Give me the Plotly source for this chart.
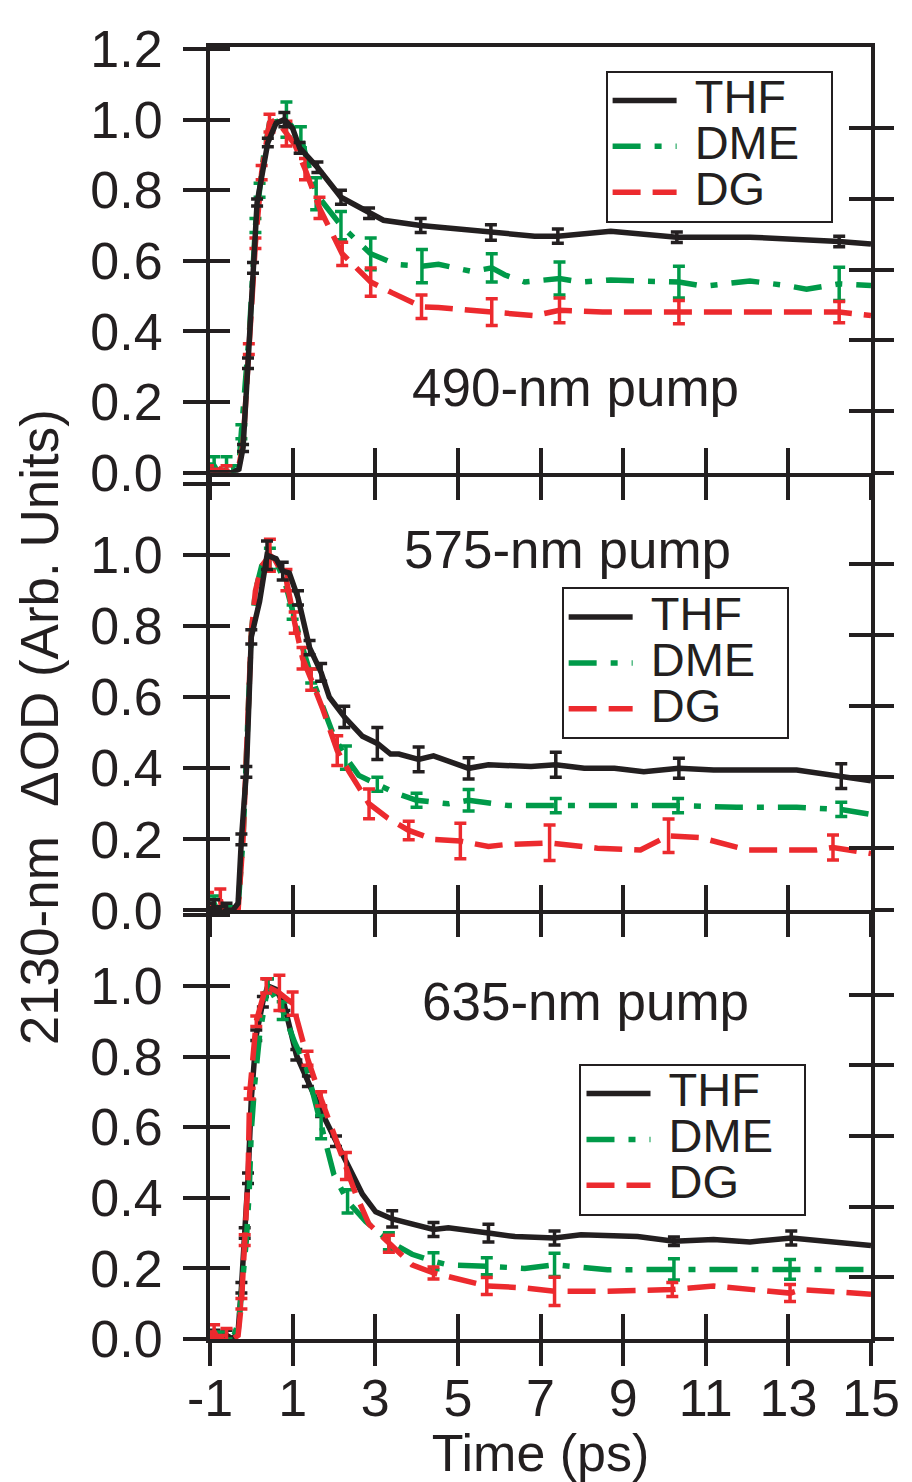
import plotly.graph_objects as go

FONT = "Liberation Sans, Arial, Helvetica, sans-serif"
INK = "#231F20"

# ---------------- data ----------------
solvents = ["THF", "DME", "DG"]
colors = {"THF": "#231F20", "DME": "#009A49", "DG": "#EC2A2E"}
dashes = {"THF": "solid", "DME": "28px,14px,7px,14px", "DG": "28px,12px"}
pump_labels = ["490-nm pump", "575-nm pump", "635-nm pump"]

x_ticks = [-1, 1, 3, 5, 7, 9, 11, 13, 15]
x_ticktext = ["-1", "1", "3", "5", "7", "9", "11", "13", "15"]
y_ticks = [0.0, 0.2, 0.4, 0.6, 0.8, 1.0, 1.2]
y_ticktext_top = ["0.0", "0.2", "0.4", "0.6", "0.8", "1.0", "1.2"]
y_ticktext_low = ["0.0", "0.2", "0.4", "0.6", "0.8", "1.0", ""]

# ---- 490-nm pump ----
thf_t_490 = [-1.05, -0.85, -0.65, -0.45, -0.3, -0.2, -0.08, 0.04, 0.14, 0.4, 0.6, 0.8, 1.0, 1.17,
             1.6, 2.17, 2.85, 3.2, 4.1, 5.0, 5.8, 6.86, 7.42, 8.7, 10.3, 12.07, 14.23, 15.0]
thf_y_490 = [0.0, 0.0, 0.0, 0.0, 0.01, 0.07, 0.31, 0.58, 0.765, 0.935, 0.99, 1.0, 0.975, 0.92,
             0.865, 0.78, 0.735, 0.715, 0.70, 0.69, 0.68, 0.67, 0.67, 0.684, 0.667, 0.667, 0.655, 0.648]
thf_e_490 = [None, None, None, None, None, 0.01, 0.015, 0.015, 0.01, 0.012, None, 0.02, None, 0.015,
             0.015, 0.02, 0.015, None, 0.02, None, 0.022, None, 0.02, None, 0.015, None, 0.015, None]

dme_t_490 = [-1.05, -0.9, -0.75, -0.6, -0.45, -0.3, -0.24, -0.04, 0.1, 0.2, 0.3, 0.44, 0.85, 1.2,
             1.57, 2.17, 2.89, 3.5, 4.13, 4.53, 5.34, 5.82, 6.14, 6.62, 7.46, 7.98, 8.7, 9.35,
             10.35, 10.95, 11.5, 12.07, 12.96, 13.44, 14.23, 15.0]
dme_y_490 = [0.0, 0.02, -0.01, 0.02, 0.0, 0.02, 0.116, 0.41, 0.7, 0.8, 0.9, 0.99, 1.0, 0.95,
             0.79, 0.70, 0.62, 0.59, 0.585, 0.59, 0.57, 0.58, 0.56, 0.54, 0.55, 0.54, 0.546, 0.543,
             0.54, 0.528, 0.535, 0.543, 0.53, 0.52, 0.535, 0.53]
dme_e_490 = [0.025, 0.025, 0.02, 0.025, 0.02, None, 0.02, None, 0.02, 0.02, None, None, 0.05, 0.03,
             0.045, 0.04, 0.045, None, 0.047, None, None, 0.04, None, None, 0.047, None, None, None,
             0.045, None, None, None, None, None, 0.047, None]

dg_t_490 = [-1.05, -0.9, -0.75, -0.6, -0.45, -0.3, -0.2, -0.06, 0.1, 0.25, 0.44, 0.6, 0.85, 1.05,
            1.3, 1.65, 2.2, 2.89, 3.4, 4.12, 4.53, 5.2, 5.82, 6.86, 7.46, 8.5, 10.35, 12.0, 14.23, 15.0]
dg_y_490 = [0.0, -0.01, 0.01, 0.0, 0.01, 0.02, 0.08, 0.35, 0.65, 0.85, 0.99, 1.0, 0.96, 0.93,
            0.86, 0.75, 0.62, 0.54, 0.51, 0.47, 0.468, 0.46, 0.455, 0.445, 0.46, 0.455, 0.455, 0.455, 0.455, 0.445]
dg_e_490 = [0.02, 0.02, None, 0.02, None, None, None, 0.015, 0.015, 0.02, 0.025, None, 0.035, None,
            0.03, 0.03, 0.033, 0.04, None, 0.033, None, None, 0.038, None, 0.035, None, 0.033, None, 0.03, None]

# ---- 575-nm pump ----
thf_t_575 = [-1.05, -0.9, -0.75, -0.6, -0.45, -0.32, -0.24, -0.12, 0.0, 0.2, 0.38, 0.6, 0.76, 0.92,
             1.13, 1.25, 1.41, 1.69, 1.89, 2.25, 2.69, 3.05, 3.37, 3.57, 4.05, 4.41, 4.77, 5.26, 5.74,
             6.77, 7.37, 8.06, 8.79, 9.5, 10.35, 11.19, 13.2, 14.28, 15.0]
thf_y_575 = [0.0, 0.01, -0.01, 0.0, 0.0, 0.02, 0.2, 0.39, 0.77, 0.87, 1.0, 0.99, 0.955, 0.95,
             0.88, 0.82, 0.74, 0.67, 0.60, 0.545, 0.49, 0.47, 0.44, 0.44, 0.425, 0.435, 0.42, 0.40, 0.41,
             0.405, 0.41, 0.40, 0.40, 0.39, 0.40, 0.395, 0.395, 0.378, 0.365]
thf_e_575 = [0.02, 0.02, 0.02, 0.02, None, None, 0.015, 0.015, 0.02, None, 0.04, None, 0.025, None,
             0.02, None, 0.02, 0.025, None, 0.03, None, 0.045, None, None, 0.035, None, None, 0.03, None,
             None, 0.035, None, None, None, 0.028, None, None, 0.035, None]

dme_t_575 = [-1.05, -0.9, -0.75, -0.6, -0.45, -0.32, -0.2, -0.1, 0.0, 0.1, 0.25, 0.45, 0.6, 0.8,
             1.0, 1.24, 1.45, 1.72, 2.0, 2.29, 2.6, 3.05, 3.5, 4.0, 4.5, 4.77, 5.26, 6.22, 7.37,
             8.79, 10.33, 11.75, 13.2, 14.28, 15.0]
dme_y_575 = [0.0, 0.02, -0.02, 0.01, -0.01, 0.01, 0.2, 0.5, 0.78, 0.9, 0.97, 0.99, 0.98, 0.93,
             0.84, 0.74, 0.66, 0.58, 0.49, 0.43, 0.38, 0.355, 0.33, 0.31, 0.305, 0.30, 0.31, 0.295, 0.295,
             0.295, 0.295, 0.29, 0.29, 0.284, 0.27]
dme_e_575 = [0.02, 0.02, 0.02, None, 0.02, None, None, None, None, None, None, 0.03, None, None,
             0.02, None, 0.02, None, None, 0.033, None, 0.02, None, 0.02, None, None, 0.03, None, 0.02,
             None, 0.02, None, None, 0.02, None]

dg_t_575 = [-1.05, -0.9, -0.75, -0.6, -0.45, -0.32, -0.2, -0.1, 0.0, 0.1, 0.25, 0.45, 0.56, 0.7,
            0.85, 1.05, 1.24, 1.45, 1.72, 2.08, 2.37, 2.85, 3.3, 3.81, 4.4, 5.06, 5.74, 6.14, 7.22,
            8.38, 9.42, 10.1, 10.86, 12.0, 13.68, 14.08, 15.0]
dg_y_575 = [0.02, -0.03, 0.03, -0.05, 0.0, 0.0, 0.2, 0.5, 0.78, 0.9, 0.97, 1.0, 0.99, 0.96,
            0.93, 0.81, 0.71, 0.65, 0.57, 0.45, 0.39, 0.30, 0.26, 0.225, 0.20, 0.195, 0.18, 0.185, 0.19,
            0.175, 0.17, 0.21, 0.205, 0.17, 0.17, 0.177, 0.16]
dg_e_575 = [0.03, 0.03, 0.03, 0.03, None, None, None, None, None, None, None, 0.045, None, None,
            0.03, 0.03, 0.03, 0.03, None, 0.042, None, 0.042, None, 0.026, None, 0.05, None, None, 0.05,
            None, None, 0.047, None, None, None, 0.035, None]

# ---- 635-nm pump ----
thf_t_635 = [-1.05, -0.9, -0.75, -0.6, -0.45, -0.32, -0.24, -0.16, -0.08, 0.0, 0.12, 0.28, 0.4, 0.6,
             0.8, 1.09, 1.37, 1.69, 2.05, 2.37, 2.69, 3.01, 3.41, 4.41, 4.77, 5.74, 6.38, 7.34, 7.98,
             9.35, 10.23, 11.19, 12.07, 13.07, 15.0]
thf_y_635 = [0.0, 0.01, 0.0, 0.01, 0.0, 0.02, 0.145, 0.30, 0.455, 0.68, 0.86, 0.955, 1.0, 0.99,
             0.945, 0.805, 0.73, 0.645, 0.56, 0.485, 0.41, 0.36, 0.34, 0.31, 0.315, 0.30, 0.29, 0.286, 0.295,
             0.29, 0.277, 0.282, 0.275, 0.286, 0.265]
thf_e_635 = [0.015, 0.015, 0.015, 0.015, None, None, 0.015, 0.015, 0.015, None, 0.015, 0.015, 0.02, None,
             0.015, 0.015, 0.015, 0.015, 0.015, None, None, None, 0.023, 0.02, None, 0.025, None, 0.02, None,
             None, 0.012, None, None, 0.02, None]

dme_t_635 = [-1.05, -0.9, -0.75, -0.6, -0.45, -0.3, -0.12, -0.05, 0.0, 0.08, 0.2, 0.4, 0.76, 1.05,
             1.33, 1.69, 2.0, 2.33, 2.77, 3.33, 3.89, 4.41, 4.77, 5.7, 6.62, 7.34, 8.62, 10.23, 11.59,
             13.04, 15.0]
dme_y_635 = [0.0, -0.02, 0.0, -0.02, 0.0, 0.05, 0.28, 0.42, 0.59, 0.72, 0.86, 1.0, 0.93, 0.84,
             0.77, 0.60, 0.465, 0.39, 0.333, 0.277, 0.24, 0.22, 0.21, 0.206, 0.20, 0.21, 0.196, 0.197, 0.196,
             0.197, 0.197]
dme_e_635 = [0.02, 0.02, 0.02, 0.02, None, None, None, None, None, None, None, 0.02, 0.025, None,
             None, 0.033, None, 0.033, None, 0.024, None, 0.024, None, 0.024, None, 0.033, None, 0.03, None,
             0.028, None]

dg_t_635 = [-1.05, -0.9, -0.75, -0.6, -0.45, -0.32, -0.24, -0.16, -0.08, -0.04, 0.12, 0.36, 0.68, 1.0,
            1.15, 1.36, 1.69, 1.97, 2.29, 2.53, 2.85, 3.33, 3.89, 4.41, 5.34, 5.7, 6.62, 7.34, 8.54,
            10.19, 11.19, 12.59, 13.04, 13.32, 15.0]
dg_y_635 = [0.0, 0.02, -0.01, 0.01, 0.0, 0.01, 0.1, 0.28, 0.455, 0.695, 0.90, 1.0, 0.98, 0.95,
            0.88, 0.795, 0.68, 0.59, 0.49, 0.41, 0.325, 0.27, 0.21, 0.187, 0.16, 0.15, 0.145, 0.135, 0.135,
            0.14, 0.15, 0.135, 0.13, 0.14, 0.127]
dg_e_635 = [0.02, 0.02, 0.02, 0.02, None, None, 0.015, 0.015, None, 0.015, 0.015, 0.02, 0.05, 0.033,
            None, 0.02, 0.02, None, 0.038, None, None, 0.024, None, 0.017, None, 0.024, None, 0.04, None,
            0.02, None, None, 0.024, None, None]

panels = [
    {"THF": (thf_t_490, thf_y_490, thf_e_490), "DME": (dme_t_490, dme_y_490, dme_e_490),
     "DG": (dg_t_490, dg_y_490, dg_e_490)},
    {"THF": (thf_t_575, thf_y_575, thf_e_575), "DME": (dme_t_575, dme_y_575, dme_e_575),
     "DG": (dg_t_575, dg_y_575, dg_e_575)},
    {"THF": (thf_t_635, thf_y_635, thf_e_635), "DME": (dme_t_635, dme_y_635, dme_e_635),
     "DG": (dg_t_635, dg_y_635, dg_e_635)},
]
draw_orders = [["DME", "DG", "THF"], ["DME", "DG", "THF"], ["THF", "DME", "DG"]]

# ---------------- layout geometry ----------------
# the page adds an 8 px body margin, so the figure is 8 px smaller on each axis
OFF = 8
W, H = 912 - OFF, 1482 - OFF
M_L, M_R, M_T, M_B = 210 - OFF, 37, 40 - OFF, 143
PW, PH = W - M_L - M_R, H - M_T - M_B
x_range = [-1, 15]
y_ranges = [[0, 1.2056], [0, 1.2325], [0, 1.214]]
domains = [[0.6705, 1.0], [0.3318, 0.6705], [0.0, 0.3318]]
right_shift = 0.025
right_tickvals = [0.0] + [v - right_shift for v in [0.2, 0.4, 0.6, 0.8, 1.0]]
label_pos = [(7.85, 0.24), (7.66, 1.017), (8.1, 0.955)]
legend_pos = [(0.5985, 0.9818), (0.532, 0.582), (0.559, 0.2132)]


def akey(letter, n):
    return f"{letter}axis" if n == 1 else f"{letter}axis{n}"


def aref(letter, n):
    return letter if n == 1 else f"{letter}{n}"


fig = go.Figure()
lay = {}
TICKW = 4
for p in range(3):
    xm, xo = p + 1, p + 4
    yl, yli, yro, yri = p + 1, p + 4, p + 7, p + 10
    common_x = dict(range=x_range, showgrid=False, zeroline=False, tickvals=x_ticks,
                    ticktext=x_ticktext, tickwidth=TICKW, tickcolor=INK, fixedrange=True)
    lay[akey("x", xm)] = dict(common_x, domain=[0, 1], anchor=aref("y", yl), showline=True,
                              linewidth=4, linecolor=INK, mirror=(p == 0), ticks="inside",
                              ticklen=25, showticklabels=False)
    xo_d = dict(common_x, overlaying=aref("x", xm), anchor=aref("y", yl), showline=False,
                ticks="outside", ticklen=26, showticklabels=(p == 2), ticklabelstandoff=-12,
                tickfont=dict(family=FONT, size=52, color=INK))
    if p == 2:
        xo_d["title"] = dict(text="Time (ps)", font=dict(family=FONT, size=52, color=INK), standoff=0)
    lay[akey("x", xo)] = xo_d

    common_y = dict(range=y_ranges[p], showgrid=False, zeroline=False, tickwidth=TICKW,
                    tickcolor=INK, fixedrange=True)
    lay[akey("y", yl)] = dict(common_y, domain=domains[p], anchor=aref("x", xm), showline=True,
                              linewidth=4, linecolor=INK, mirror=True, ticks="outside", ticklen=23,
                              tickvals=y_ticks, ticklabelstandoff=10,
                              ticktext=y_ticktext_top if p == 0 else y_ticktext_low,
                              tickfont=dict(family=FONT, size=52, color=INK))
    lay[akey("y", yli)] = dict(common_y, overlaying=aref("y", yl), anchor=aref("x", xm), side="left",
                               showline=False, ticks="inside", ticklen=20, tickvals=y_ticks,
                               showticklabels=False)
    lay[akey("y", yro)] = dict(common_y, overlaying=aref("y", yl), anchor=aref("x", xm), side="right",
                               showline=False, ticks="outside", ticklen=22, tickvals=right_tickvals,
                               showticklabels=False)
    lay[akey("y", yri)] = dict(common_y, overlaying=aref("y", yl), anchor=aref("x", xm), side="right",
                               showline=False, ticks="inside", ticklen=22, tickvals=right_tickvals,
                               showticklabels=False)

    # placeholder traces so every overlay axis pair is drawn
    for (xa, ya) in [(aref("x", xo), aref("y", yl)), (aref("x", xm), aref("y", yli)),
                     (aref("x", xm), aref("y", yro)), (aref("x", xm), aref("y", yri))]:
        fig.add_trace(go.Scatter(x=[None], y=[None], xaxis=xa, yaxis=ya, mode="lines",
                                 showlegend=False, hoverinfo="skip"))

    leg_name = "legend" if p == 0 else f"legend{p + 1}"
    for s in draw_orders[p]:
        t, y, e = panels[p][s]
        fig.add_trace(go.Scatter(
            x=t, y=y, mode="lines",
            name=f'<span style="font-size:47px">\u00a0{s}\u00a0\u00a0</span>',
            line=dict(color=colors[s], width=5.5, dash=dashes[s]),
            xaxis=aref("x", xm), yaxis=aref("y", yl), legend=leg_name,
            legendrank=solvents.index(s) + 1, showlegend=True, hoverinfo="skip"))
        et = [ti for ti, ei in zip(t, e) if ei is not None]
        ey = [yi for yi, ei in zip(y, e) if ei is not None]
        ee = [ei for ei in e if ei is not None]
        fig.add_trace(go.Scatter(
            x=et, y=ey, mode="markers", marker=dict(size=1, color=colors[s], opacity=0),
            error_y=dict(type="data", array=ee, color=colors[s], thickness=3.5, width=6),
            xaxis=aref("x", xm), yaxis=aref("y", yl), showlegend=False, hoverinfo="skip"))

    lay[leg_name] = dict(x=legend_pos[p][0], y=legend_pos[p][1], xanchor="left", yanchor="top",
                         bgcolor="white", bordercolor=INK, borderwidth=2, itemwidth=64,
                         font=dict(family=FONT, size=33, color=INK), tracegroupgap=0,
                         itemclick=False, itemdoubleclick=False)

annotations = []
for p in range(3):
    annotations.append(dict(text=pump_labels[p], x=label_pos[p][0], y=label_pos[p][1],
                            xref=aref("x", p + 1), yref=aref("y", p + 1), showarrow=False,
                            xanchor="center", yanchor="middle",
                            font=dict(family=FONT, size=53, color=INK)))
annotations.append(dict(text="2130-nm\u00a0 \u0394OD (Arb. Units)", x=(38 - OFF - M_L) / PW,
                        y=(H - M_B - (724 - OFF)) / PH, xref="paper", yref="paper",
                        showarrow=False, textangle=-90, xanchor="center", yanchor="middle",
                        font=dict(family=FONT, size=53, color=INK)))

fig.update_layout(width=W, height=H, margin=dict(l=M_L, r=M_R, t=M_T, b=M_B, pad=0),
                  paper_bgcolor="white", plot_bgcolor="white", annotations=annotations,
                  font=dict(family=FONT, color=INK), **lay)
fig.write_html("out.html")
